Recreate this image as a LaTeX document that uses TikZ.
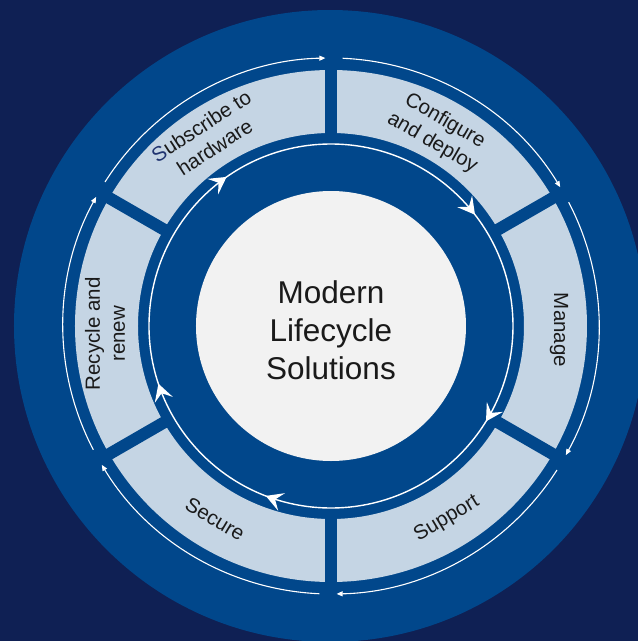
\documentclass[tikz,border=0pt]{standalone}
\usepackage{fontspec}
\setmainfont{Liberation Sans}
\usetikzlibrary{arrows.meta}
\definecolor{bgnavy}{RGB}{15,32,84}
\definecolor{ringblue}{RGB}{1,71,139}
\definecolor{segfill}{RGB}{197,213,228}
\definecolor{coregray}{RGB}{242,242,242}
\definecolor{textdark}{RGB}{26,26,26}
\definecolor{sblue}{RGB}{32,52,112}
\begin{document}
\begin{tikzpicture}[x=1pt,y=1pt,
  seglabel/.style={text=textdark, font=\fontsize{20.5}{25}\selectfont, align=center, inner sep=0pt},
  outerarc/.style={white, line width=1.1pt, -{Triangle[length=6pt,width=5pt]}},
  innerring/.style={white, line width=1.4pt},
  chevshape/.style={fill=white}
]
\useasboundingbox (-331,-315) rectangle (307,326);
\clip (-331,-315) rectangle (307,326);
\fill[bgnavy] (-331,-315) rectangle (307,326);
\fill[ringblue] (-1,0) circle[radius=316];
% segments ring
\fill[segfill,even odd rule] (0,0) circle[radius=256] (0,0) circle[radius=193];
\foreach \g in {90,30,-30,-90,-150,150}
  \draw[ringblue, line width=12pt] (\g:185) -- (\g:264);
% outer clockwise arcs
\foreach \g in {150,90,30,-30,-90,-150}
  \draw[outerarc] (\g-2.5:268) arc[start angle=\g-2.5, end angle=\g-58.8, radius=268];
% inner circle
\draw[innerring] (0,0) circle[radius=182];
% chevrons (clockwise)
\foreach \a in {125,37.7,-31.6,-111,198.5}
  \fill[chevshape, shift={(\a:182)}, rotate=\a-90]
    (0,0) -- (-17,9.5) -- (-10,0) -- (-17,-9.5) -- cycle;
% core
\node[circle, fill=coregray, minimum size=270pt, inner sep=0pt] (core) at (0,0) {};
\node[text=textdark, font=\fontsize{31.5}{38}\selectfont, align=center] (title) at (0,-4) {Modern\\Lifecycle\\Solutions};
% labels
\node[seglabel, rotate=33] (subscribe) at (123:226) {{\color{sblue}S}ubscribe to\\hardware};
\node[seglabel, rotate=-30] (configure) at (61:222) {Configure\\and deploy};
\node[seglabel, rotate=-90] (manage) at (-1:228) {Manage};
\node[seglabel, rotate=31] (support) at (-59:225) {Support};
\node[seglabel, rotate=-31] (secure) at (-121:225) {Secure};
\node[seglabel, rotate=90] (recycle) at (182:226) {Recycle and\\renew};
\end{tikzpicture}
\end{document}
